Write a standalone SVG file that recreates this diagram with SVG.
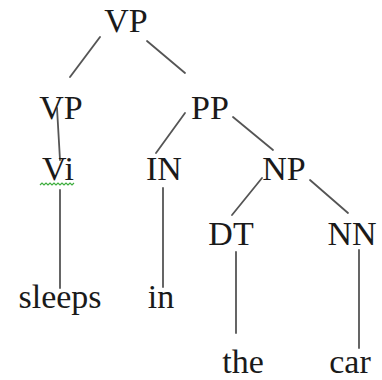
<svg xmlns="http://www.w3.org/2000/svg" width="382" height="380" viewBox="0 0 382 380">
  <style>
    .edge { stroke: #555; stroke-width: 1.8; stroke-linecap: round; fill: none; }
    .squiggle { stroke: #3fae3f; stroke-width: 1.2; fill: none; }
  </style>
  <rect width="382" height="380" fill="#fff"/>

  <g id="connectors">
    <line class="edge" x1="100" y1="37" x2="70" y2="77"/>
    <line class="edge" x1="147" y1="41" x2="185" y2="73"/>
    <line class="edge" x1="57" y1="108" x2="60" y2="160"/>
    <line class="edge" x1="185" y1="113" x2="156" y2="153"/>
    <line class="edge" x1="233" y1="117" x2="273" y2="150"/>
    <line class="edge" x1="262" y1="178" x2="232" y2="215"/>
    <line class="edge" x1="310" y1="180" x2="348" y2="213"/>
    <line class="edge" x1="60" y1="190" x2="60" y2="288"/>
    <line class="edge" x1="163" y1="188" x2="163" y2="287"/>
    <line class="edge" x1="236" y1="252" x2="236" y2="333"/>
    <line class="edge" x1="359" y1="250" x2="359" y2="348"/>
  </g>

  <g font-family="'Times New Roman', Times, Tinos, 'Nimbus Roman', 'Noto Serif', FreeSerif, 'Liberation Serif', serif" font-size="34" fill="#1a1a1a" text-anchor="middle">
    <g id="vp-root"><text x="126" y="32">VP</text></g>
    <g id="vp"><text x="61" y="119">VP</text></g>
    <g id="pp"><text x="210" y="119">PP</text></g>
    <g id="vi">
      <text x="58" y="180">Vi</text>
      <path class="squiggle" d="M40 185 l2 -2 l2 2 l2 -2 l2 2 l2 -2 l2 2 l2 -2 l2 2 l2 -2 l2 2 l2 -2 l2 2 l2 -2 l2 2 l2 -2 l2 2 l2 -2"/>
    </g>
    <g id="in-tag"><text x="164" y="180">IN</text></g>
    <g id="np"><text x="284" y="180">NP</text></g>
    <g id="dt"><text x="231" y="245">DT</text></g>
    <g id="nn"><text x="352" y="245">NN</text></g>
    <g id="sleeps"><text x="60" y="308">sleeps</text></g>
    <g id="in-word"><text x="161" y="308">in</text></g>
    <g id="the"><text x="243" y="373">the</text></g>
    <g id="car"><text x="350" y="373">car</text></g>
  </g>
</svg>
